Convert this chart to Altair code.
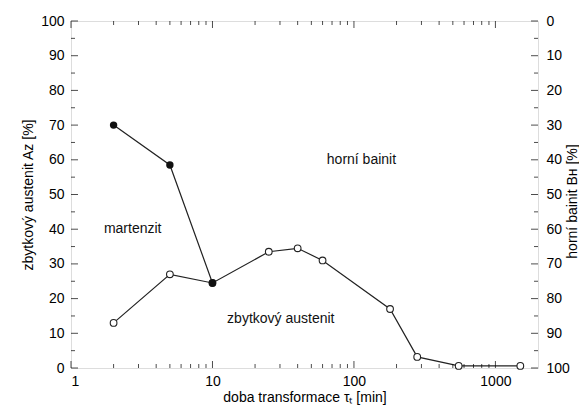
import altair as alt
import pandas as pd

# martenzit (filled points)
mart_t = [2, 5, 10]
mart_v = [70, 58.5, 24.5]
# zbytkový austenit (open points)
aust_t = [2, 5, 10, 25, 40, 60, 180, 280, 550, 1500]
aust_v = [13, 27, 24.5, 33.5, 34.5, 31, 17, 3.2, 0.6, 0.6]

y_major = list(range(0, 101, 10))
y_minor = list(range(5, 100, 10))
x_major = [1, 10, 100, 1000]
x_minor = [2, 3, 4, 5, 6, 7, 8, 9, 20, 30, 40, 50, 60, 70, 80, 90,
           200, 300, 400, 500, 600, 700, 800, 900]

note_text = ["martenzit", "horní bainit", "zbytkový austenit"]
note_t = [2.73, 113, 30.4]
note_v = [40, 60, 14]

FONT = "Liberation Sans"
W, H = 467, 347

mart = pd.DataFrame({"t": mart_t, "v": mart_v})
aust = pd.DataFrame({"t": aust_t, "v": aust_v})
notes = pd.DataFrame({"t": note_t, "v": note_v, "txt": note_text})
ymaj = pd.DataFrame({"v": y_major})
ymin = pd.DataFrame({"v": y_minor})
xmaj = pd.DataFrame({"t": x_major})
xmin = pd.DataFrame({"t": x_minor})

xscale = alt.Scale(type="log", domain=[1, 2000])
xaxis = alt.Axis(values=x_major, labelExpr="format(datum.value, 'd')",
                 ticks=False, tickSize=0, domain=False, grid=False,
                 labelPadding=6, labelFontSize=14, labelFont=FONT, labelColor="black",
                 title="doba transformace τₜ [min]", titleFontSize=14, titleFont=FONT,
                 titleFontWeight="normal", titleColor="black", titlePadding=2)
X = alt.X("t:Q", scale=xscale, axis=xaxis)

yscale = alt.Scale(domain=[0, 100])
yaxis = alt.Axis(values=y_major, ticks=False, tickSize=0, domain=False, grid=False,
                 labelPadding=7, labelFontSize=14, labelFont=FONT, labelColor="black",
                 title="zbytkový austenit Aᴢ [%]", titleFontSize=14, titleFont=FONT,
                 titleFontWeight="normal", titleColor="black", titlePadding=5)
Y = alt.Y("v:Q", scale=yscale, axis=yaxis)

line_mart = alt.Chart(mart).mark_line(color="#222", strokeWidth=1.2).encode(x=X, y=Y)
line_aust = alt.Chart(aust).mark_line(color="#222", strokeWidth=1.2).encode(x=X, y=Y)
pts_aust = alt.Chart(aust).mark_point(shape="circle", filled=True, fill="white",
                                      stroke="#222", strokeWidth=1.1, size=45,
                                      opacity=1).encode(x=X, y=Y)
pts_mart = alt.Chart(mart).mark_point(shape="circle", filled=True, color="#111",
                                      size=55, opacity=1).encode(x=X, y=Y)
txt = alt.Chart(notes).mark_text(font=FONT, fontSize=14, color="#111",
                                 align="center", baseline="middle").encode(x=X, y=Y, text="txt:N")

# inward ticks
lt_maj = alt.Chart(ymaj).mark_tick(orient="horizontal", size=7, thickness=1, color="black").encode(
    y=Y, x=alt.value(3.5))
lt_min = alt.Chart(ymin).mark_tick(orient="horizontal", size=4, thickness=1, color="black").encode(
    y=Y, x=alt.value(2))
rt_maj = alt.Chart(ymaj).mark_tick(orient="horizontal", size=7, thickness=1, color="black").encode(
    y=Y, x=alt.value(W - 3.5))
rt_min = alt.Chart(ymin).mark_tick(orient="horizontal", size=4, thickness=1, color="black").encode(
    y=Y, x=alt.value(W - 2))
bt_maj = alt.Chart(xmaj).mark_tick(orient="vertical", size=7, thickness=1, color="black").encode(
    x=X, y=alt.value(H - 3.5))
bt_min = alt.Chart(xmin).mark_tick(orient="vertical", size=4, thickness=1, color="black").encode(
    x=X, y=alt.value(H - 2))
tt_maj = alt.Chart(xmaj).mark_tick(orient="vertical", size=7, thickness=1, color="black").encode(
    x=X, y=alt.value(3.5))
tt_min = alt.Chart(xmin).mark_tick(orient="vertical", size=4, thickness=1, color="black").encode(
    x=X, y=alt.value(2))

left_group = alt.layer(line_mart, line_aust, pts_aust, pts_mart, txt,
                       lt_maj, lt_min, rt_maj, rt_min, bt_maj, bt_min, tt_maj, tt_min)

raxis = alt.Axis(orient="right", values=y_major, ticks=False, tickSize=0, domain=False, grid=False,
                 labelPadding=8, labelFontSize=14, labelFont=FONT, labelColor="black",
                 title="horní bainit Bʜ [%]", titleFontSize=14, titleFont=FONT,
                 titleFontWeight="normal", titleColor="black", titleAngle=270,
                 titleX=38, titleY=180, titleAlign="center", titleBaseline="alphabetic")
YR = alt.Y("v:Q", scale=alt.Scale(domain=[0, 100], reverse=True), axis=raxis)
right_group = alt.Chart(ymaj).mark_tick(orient="horizontal", size=7, thickness=1,
                                        color="black", opacity=0).encode(y=YR, x=alt.value(W - 3.5))

chart = alt.layer(left_group, right_group).resolve_scale(y="independent").properties(
    width=W, height=H,
    autosize=alt.AutoSizeParams(type="none"),
    padding={"left": 63, "top": 13, "right": 41, "bottom": 38},
).configure_view(stroke="black", strokeWidth=1).configure(background="white")

chart.save("out.html", embed_options={"renderer": "svg", "actions": False})
